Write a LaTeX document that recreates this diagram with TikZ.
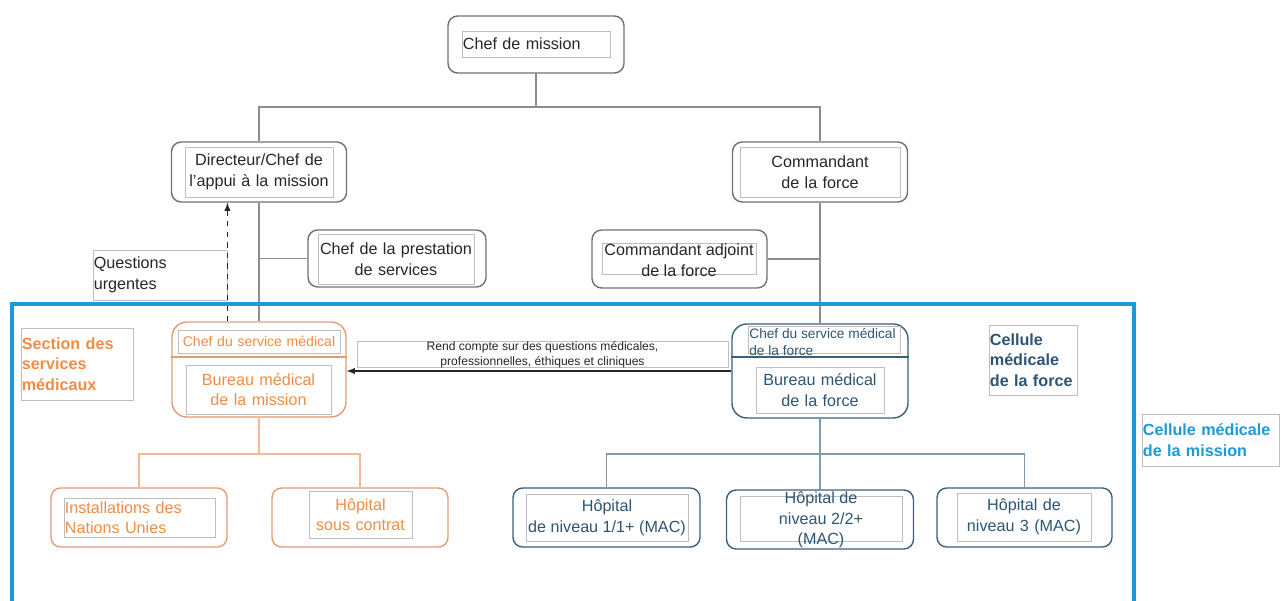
\documentclass[tikz,border=0pt]{standalone}
\usepackage{fontspec}
\setmainfont{Liberation Sans}

\definecolor{txtgray}{RGB}{38,38,38}
\definecolor{boxgray}{RGB}{112,112,112}
\definecolor{ingray}{RGB}{190,190,190}
\definecolor{linegray}{RGB}{140,140,140}
\definecolor{cellblue}{RGB}{28,154,214}
\definecolor{medorange}{RGB}{240,140,70}
\definecolor{orangebox}{RGB}{226,156,116}
\definecolor{orangeline}{RGB}{238,186,152}
\definecolor{forceblue}{RGB}{45,85,115}
\definecolor{forcebox}{RGB}{58,96,122}
\definecolor{forceline}{RGB}{128,155,174}

\newcommand{\basefont}{\fontsize{9.2}{11.7}\selectfont}

\tikzset{
	outer/.style 2 args = {draw = boxgray, line width = 0.8pt, rounded corners = 5.5pt,
		minimum width = #1*0.02cm, minimum height = #2*0.02cm, inner sep = 0pt},
	inbox/.style 2 args = {draw = ingray, line width = 0.5pt, inner sep = 0.5pt, text = txtgray,
		text width = #1*0.02cm - 1pt, minimum height = #2*0.02cm, align = center},
	conn/.style = {draw = linegray, line width = 0.6pt},
	tag/.style = {align = left, font = \basefont\bfseries}
}

\begin{document}
\begin{tikzpicture}[> = latex, x = 0.02cm, y = -0.02cm, font = \basefont]

	\useasboundingbox (0, 0) rectangle (1282, 601);

	% Direction
	
	\node [outer = {176}{57}] (chef) at (536, 44.5) {};
	\node [inbox = {148}{26}, align = left] (chef-t) at (536, 44) {Chef de mission};
	
	\node [outer = {175}{60}] (dir) at (259, 172) {};
	\node [inbox = {148}{50}] (dir-t) at (259, 172) {Directeur/Chef de\\l’appui à la mission};
	
	\node [outer = {175}{60}] (cmd) at (820, 172) {};
	\node [inbox = {160}{50}] (cmd-t) at (820, 172) {Commandant\\de la force};
	
	\node [outer = {178}{57}] (prest) at (397, 258.5) {};
	\node [inbox = {156}{50}] (prest-t) at (396, 259) {Chef de la prestation\\de services};
	
	\node [outer = {175}{58}] (adj) at (679.5, 259) {};
	\node [inbox = {154}{31}] (adj-b) at (679, 258.5) {};
	\node [text = txtgray, align = center] (adj-t) at (679, 260) {Commandant adjoint\\de la force};
	
	\node [inbox = {134}{50}, align = left] (quest) at (160, 275) {Questions\\urgentes};

	% Medical offices
	
	\node [outer = {174}{95}, draw = orangebox, rounded corners = 8.5pt] (med) at (259, 369.5) {};
	\node [inbox = {162}{23}, text = medorange, font = \fontsize{8}{10}\selectfont] (med-chef) at (259, 341.5) {Chef du service médical};
	\draw [orangebox, line width = 0.8pt] (med.west |- 0, 357) -- (med.east |- 0, 357);
	\node [inbox = {145}{49}, text = medorange] (med-bur) at (258.5, 389.5) {Bureau médical\\de la mission};
	
	\node [outer = {176}{94}, draw = forcebox, rounded corners = 8.5pt] (force) at (820, 371) {};
	\node [inbox = {152}{27}] (force-chef) at (824, 339.5) {};
	\node [text = forceblue, align = left, inner sep = 0pt, anchor = west, font = \fontsize{7.8}{9.6}\selectfont] (force-chef-t) at (749, 342) {Chef du service médical\\de la force};
	\draw [forcebox, line width = 0.8pt] (force.west |- 0, 357) -- (force.east |- 0, 357);
	\node [inbox = {128}{46}, text = forceblue] (force-bur) at (820, 390) {Bureau médical\\de la force};
	
	\node [inbox = {371}{26}] (rend) at (542.5, 354) {};
	\node [text = txtgray, align = center, inner sep = 0pt, font = \fontsize{6.9}{8.5}\selectfont] (rend-t) at (542.5, 355) {Rend compte sur des questions médicales,\\professionnelles, éthiques et cliniques};

	% Labels
	
	\node [inbox = {112}{72}, tag, text = medorange] (sect) at (77, 364) {Section des\\services\\médicaux};
	\node [inbox = {88}{70}, tag, text = forceblue] (cellf) at (1033, 360) {Cellule\\médicale\\de la force};
	\node [inbox = {137}{52}, tag, text = cellblue] (cellm) at (1210.5, 440) {Cellule médicale\\de la mission};

	% Hospitals
	
	\node [outer = {176}{59}, draw = orangebox] (inst) at (139, 517.5) {};
	\node [inbox = {151}{39}, align = left, text = medorange] (inst-t) at (139.5, 517.5) {Installations des\\Nations Unies};
	
	\node [outer = {176}{59}, draw = orangebox] (contr) at (360, 517.5) {};
	\node [inbox = {103}{47}, text = medorange] (contr-t) at (360.5, 514.5) {Hôpital\\sous contrat};
	
	\node [outer = {187}{59}, draw = forcebox] (h1) at (606.5, 517.5) {};
	\node [inbox = {162}{47}] (h1-b) at (607, 517.5) {};
	\node [text = forceblue, align = center, inner sep = 0pt] (h1-t) at (607, 518) {Hôpital\\de niveau 1/1+ (MAC)};
	
	\node [outer = {187}{59}, draw = forcebox] (h2) at (820, 519.5) {};
	\node [inbox = {162}{45}] (h2-b) at (821, 518.5) {};
	\node [text = forceblue, align = center] (h2-t) at (821, 520) {Hôpital de\\niveau 2/2+\\(MAC)};
	
	\node [outer = {175}{59}, draw = forcebox] (h3) at (1024.5, 517.5) {};
	\node [inbox = {134}{48}, text = forceblue] (h3-t) at (1024, 517) {Hôpital de\\niveau 3 (MAC)};

	% Connectors
	
	\coordinate (j-top) at (536, 107);
	\draw [conn] (chef) -- (j-top);
	\draw [conn] (j-top) -| (dir);
	\draw [conn] (j-top) -| (cmd);
	
	\draw [conn] (dir) -- (med);
	\draw [conn] (prest) -- (prest.west -| dir);
	\draw [conn] (cmd) -- (force);
	\draw [conn] (adj) -- (adj.east -| cmd);
	
	\draw [conn, draw = txtgray, dashed, ->] (med.north -| quest.east) -- (dir.south -| quest.east);
	\draw [conn, draw = txtgray, ->] (force.west) -- (force.west -| med.east);
	
	\coordinate (j-med) at (259, 454);
	\draw [conn, draw = orangeline] (med) -- (j-med);
	\draw [conn, draw = orangeline] (j-med) -| (inst);
	\draw [conn, draw = orangeline] (j-med) -| (contr);
	
	\coordinate (j-force) at (820, 454);
	\draw [conn, draw = forceline] (force) -- (j-force);
	\draw [conn, draw = forceline] (j-force) -| (h1);
	\draw [conn, draw = forceline] (j-force) -| (h2);
	\draw [conn, draw = forceline] (j-force) -| (h3);

	% Mission frame
	
	\draw [cellblue, line width = 1.8pt] (12, 603) -- (12, 304) -- (1134, 304) -- (1134, 603);

\end{tikzpicture}
\end{document}
